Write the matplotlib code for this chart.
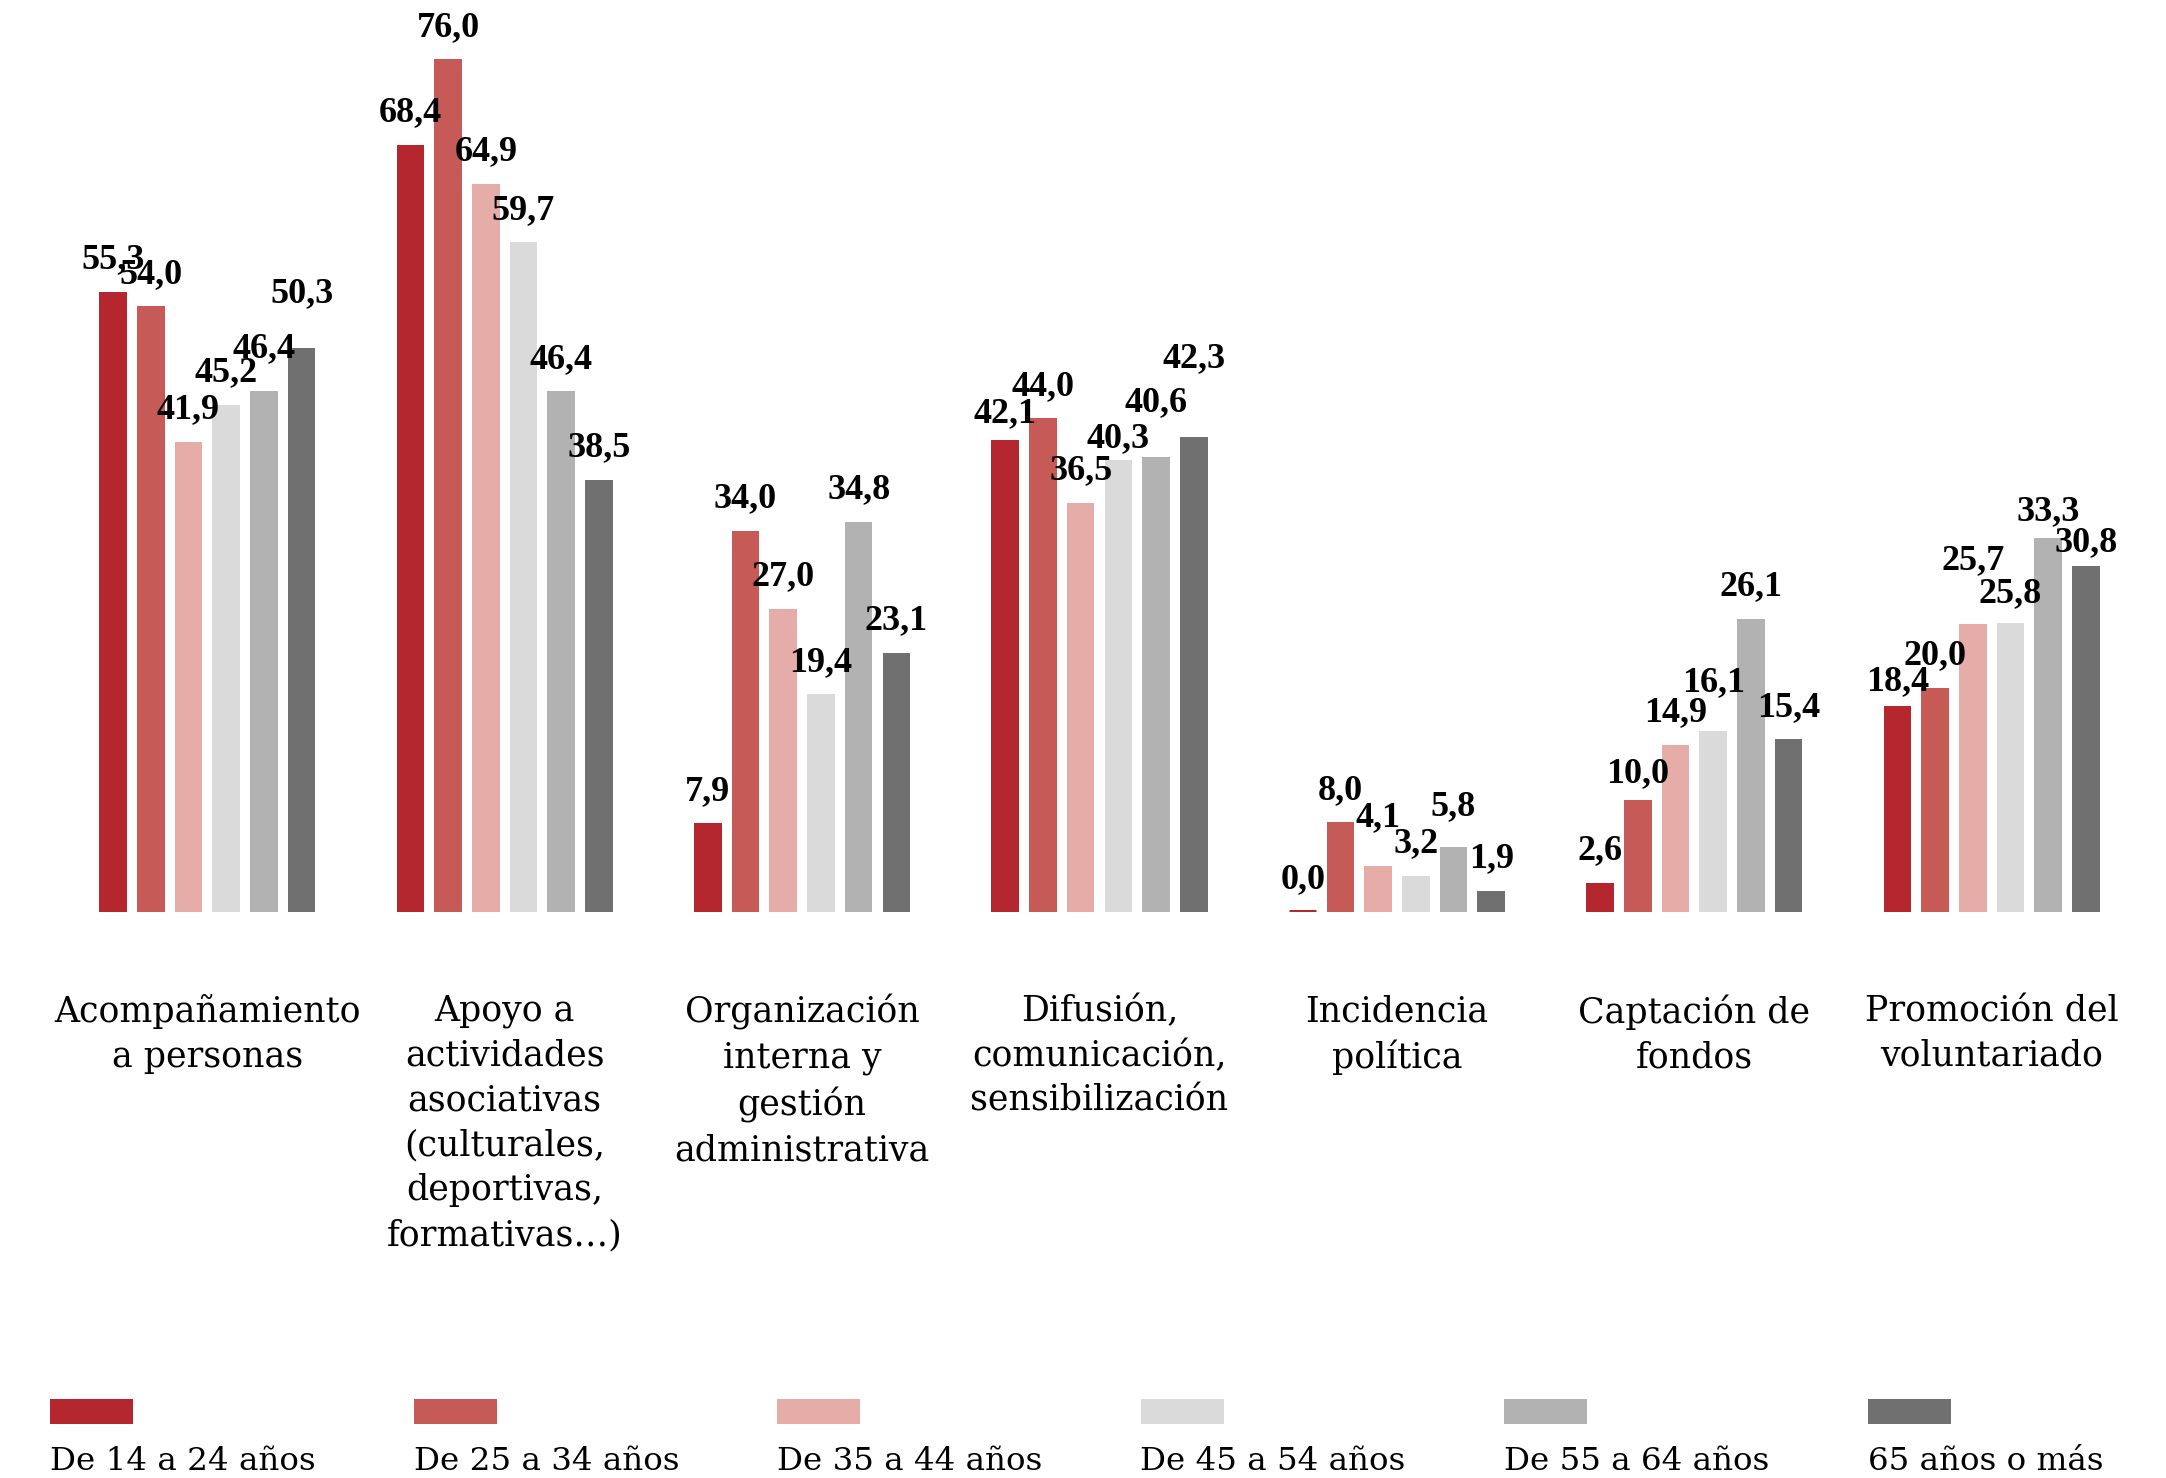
import matplotlib
matplotlib.use("Agg")
import matplotlib.pyplot as plt
from matplotlib.patches import Rectangle
from matplotlib.transforms import blended_transform_factory

# --- Datos ---
categorias = [
    "Acompañamiento\na personas",
    "Apoyo a\nactividades\nasociativas\n(culturales,\ndeportivas,\nformativas…)",
    "Organización\ninterna y\ngestión\nadministrativa",
    "Difusión,\ncomunicación,\nsensibilización",
    "Incidencia\npolítica",
    "Captación de\nfondos",
    "Promoción del\nvoluntariado",
]
edades = ["De 14 a 24 años", "De 25 a 34 años", "De 35 a 44 años",
          "De 45 a 54 años", "De 55 a 64 años", "65 años o más"]

v_14_24 = [55.3, 68.4, 7.9, 42.1, 0.0, 2.6, 18.4]
v_25_34 = [54.0, 76.0, 34.0, 44.0, 8.0, 10.0, 20.0]
v_35_44 = [41.9, 64.9, 27.0, 36.5, 4.1, 14.9, 25.7]
v_45_54 = [45.2, 59.7, 19.4, 40.3, 3.2, 16.1, 25.8]
v_55_64 = [46.4, 46.4, 34.8, 40.6, 5.8, 26.1, 33.3]
v_65_mas = [50.3, 38.5, 23.1, 42.3, 1.9, 15.4, 30.8]
series = [v_14_24, v_25_34, v_35_44, v_45_54, v_55_64, v_65_mas]

colores = ["#B5272F", "#C65A56", "#E6ACA7", "#DADADA", "#B2B2B2", "#707070"]

# desplazamiento extra (pt) de algunas etiquetas para que no se pisen
extra = {(0, 4): 4, (0, 5): 8,
         (3, 0): -2, (3, 3): -4, (3, 4): 8, (3, 5): 17,
         (4, 2): 6, (4, 4): 3,
         (5, 1): -2, (5, 3): 6,
         (6, 0): -3, (6, 2): 11, (6, 3): -1, (6, 4): -2, (6, 5): -3}

fam_num = "Liberation Serif"
fam_txt = "DejaVu Serif"

# --- Figura ---
W, H, DPI = 2166, 1478, 200
fig = plt.figure(figsize=(W / DPI, H / DPI), dpi=DPI)
ax = fig.add_axes([0, (H - 912) / H, 1, 912 / H])
ax.axis("off")
ax.set_xlim(-0.697, 6.586)
ax.set_ylim(0, 81.3)

paso = 0.1268
ancho = 0.093
for j, vals in enumerate(series):
    xs = [i + (j - 2.5) * paso for i in range(len(categorias))]
    # las barras con valor 0 se ven como una línea fina
    ax.bar(xs, vals, width=ancho, color=colores[j], edgecolor=colores[j],
           linewidth=[1.8 if v == 0 else 0 for v in vals])
    for i, (x, v) in enumerate(zip(xs, vals)):
        ax.annotate(f"{v:.1f}".replace(".", ","), (x, v),
                    xytext=(0, 8.5 + extra.get((i, j), 0)),
                    textcoords="offset points", ha="center", va="baseline",
                    fontsize=13, fontweight="bold", family=fam_num,
                    color="black")

# etiquetas de categoría
tr = blended_transform_factory(ax.transData, fig.transFigure)
for i, cat in enumerate(categorias):
    ax.text(i, (H - 994) / H, cat, transform=tr, ha="center", va="top",
            fontsize=12.5, family=fam_txt, linespacing=1.4, color="black")

# leyenda manual
for j, (lab, col) in enumerate(zip(edades, colores)):
    x0 = (50 + j * 363.5) / W
    fig.patches.append(Rectangle((x0, (H - 1424) / H), 83 / W, 25 / H,
                                 transform=fig.transFigure, color=col,
                                 linewidth=0))
    fig.text(x0, (H - 1470) / H, lab, ha="left", va="baseline",
             fontsize=11.7, family=fam_txt, color="black")

fig.savefig("out.png", dpi=DPI)
